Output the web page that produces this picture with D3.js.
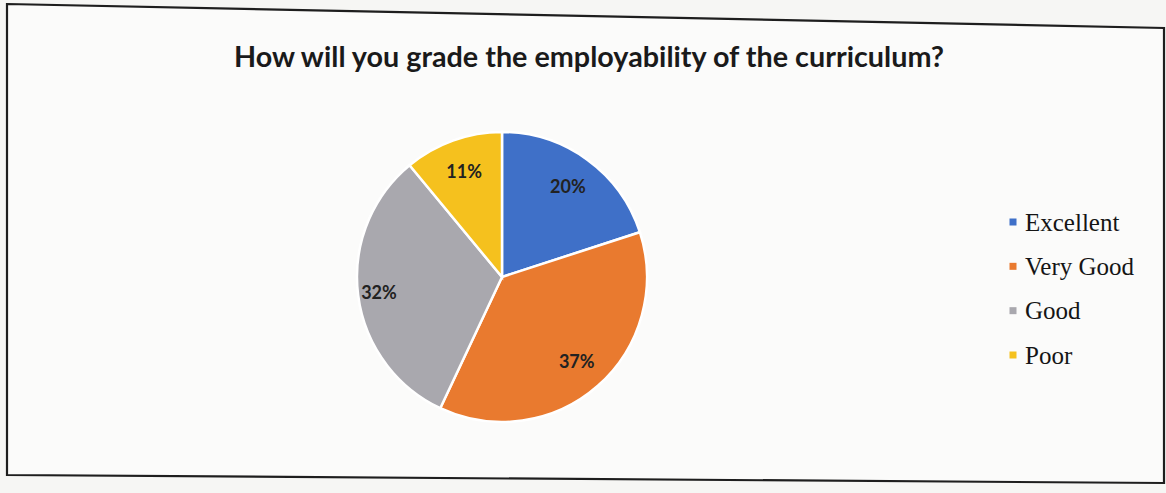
<!DOCTYPE html>
<html>
<head>
<meta charset="utf-8">
<script src="https://cdn.jsdelivr.net/npm/d3@7"></script>
<style>
  html, body { margin: 0; padding: 0; background: #f6f6f4; }
  svg { display: block; }
</style>
</head>
<body>
<svg id="chart" width="1166" height="493"></svg>
<script>
const categories = ["Excellent", "Very Good", "Good", "Poor"];
const values = [20, 37, 32, 11];
const labels = ["20%", "37%", "32%", "11%"];
const colors = ["#3f70c8", "#e97a2f", "#a9a8ae", "#f5c11e"];
const title = "How will you grade the employability of the curriculum?";

const svg = d3.select("#chart");

// frame (photographed, slightly skewed)
svg.append("path")
  .attr("d", "M7,4 L1164,28 L1164,483 L7,475 Z")
  .attr("fill", "#fbfbfa")
  .attr("stroke", "#1e1e1e")
  .attr("stroke-width", 2.2);

svg.append("text")
  .attr("x", 589).attr("y", 67)
  .attr("text-anchor", "middle")
  .attr("font-family", "Lato, 'Open Sans', sans-serif")
  .attr("font-weight", "bold")
  .attr("font-size", 28)
  .attr("fill", "#1a1a1a")
  .attr("textLength", 710)
  .attr("lengthAdjust", "spacingAndGlyphs")
  .text(title);

const cx = 502, cy = 277, r = 145;
const pie = d3.pie().sort(null).value(d => d)(values);
const arc = d3.arc().innerRadius(0).outerRadius(r);
const labelR = [112, 113, 124, 112];

const g = svg.append("g").attr("transform", `translate(${cx},${cy})`);
g.selectAll("path.slice").data(pie).join("path")
  .attr("class", "slice")
  .attr("d", arc)
  .attr("fill", (d, i) => colors[i])
  .attr("stroke", "#ffffff")
  .attr("stroke-width", 2.5);

g.selectAll("text.lbl").data(pie).join("text")
  .attr("class", "lbl")
  .attr("transform", (d, i) => {
    const a = (d.startAngle + d.endAngle) / 2;
    const lr = labelR[i];
    return `translate(${lr * Math.sin(a)},${-lr * Math.cos(a)})`;
  })
  .attr("text-anchor", "middle")
  .attr("dy", "0.35em")
  .attr("font-family", "Lato, 'Open Sans', sans-serif")
  .attr("font-weight", "bold")
  .attr("font-size", 18)
  .attr("fill", "#222")
  .text((d, i) => labels[i]);

// legend
const ly = d3.scalePoint().domain(categories).range([222, 355]);
const leg = svg.append("g");
const items = leg.selectAll("g").data(categories).join("g")
  .attr("transform", d => `translate(1013,${ly(d)})`);
items.append("rect")
  .attr("x", -3.5).attr("y", -3.5).attr("width", 7).attr("height", 7)
  .attr("fill", (d, i) => colors[i]);
items.append("text")
  .attr("x", 12).attr("dy", "0.35em")
  .attr("font-family", "'Liberation Serif', 'Times New Roman', serif")
  .attr("font-size", 25)
  .attr("fill", "#151515")
  .text(d => d);
</script>
</body>
</html>
